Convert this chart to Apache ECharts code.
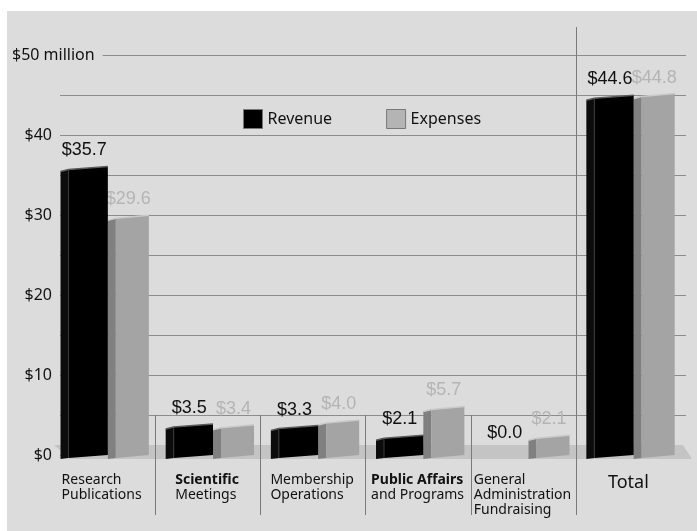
<!DOCTYPE html>
<html><head><meta charset="utf-8">
<script src="https://cdn.jsdelivr.net/npm/echarts@6/dist/echarts.min.js"></script>
<style>html,body{margin:0;padding:0;background:#fff}#c{width:697px;height:531px}</style>
</head><body><div id="c"></div>
<script>
const categories = ['Research\nPublications','Scientific\nMeetings','Membership\nOperations','Public Affairs\nand Programs','General\nAdministration\nFundraising','Total'];
const revenue = [35.7, 3.5, 3.3, 2.1, 0.0, 44.6];
const expenses = [29.6, 3.4, 4.0, 5.7, 2.1, 44.8];
const yTickLabels = ['$0','$10','$20','$30','$40','$50 million'];
const seriesNames = ['Revenue','Expenses'];

const AX_FONT = '"Noto Sans", sans-serif';
const VAL_FONT = '"Liberation Sans", Arial, sans-serif';

// measure category label blocks so lines are left aligned inside a centered block
const cv = document.createElement('canvas').getContext('2d');
function w(text, bold, size){ cv.font = (bold?'bold ':'') + size + 'px "Noto Sans"'; return cv.measureText(text).width; }
const rich = { t: { fontSize: 18, fontFamily: AX_FONT, color: '#111', lineHeight: 20 } };
const boldHead = { 1: true, 3: true };
categories.forEach((c, i) => {
  const lines = c.split('\n');
  let mw = 0;
  lines.forEach((l, j) => { mw = Math.max(mw, w(l, boldHead[i] && j === 0, 14)); });
  mw = Math.ceil(mw) + 1;
  rich['n' + i] = { width: mw, align: 'left', fontSize: 14, lineHeight: 15, fontFamily: AX_FONT, color: '#111' };
  rich['b' + i] = { width: mw, align: 'left', fontSize: 14, lineHeight: 15, fontFamily: AX_FONT, color: '#111', fontWeight: 'bold' };
});
function catFormatter(value, index) {
  if (index === categories.length - 1) return '{t|' + value + '}';
  return value.split('\n').map((l, j) => '{' + ((boldHead[index] && j === 0) ? 'b' : 'n') + index + '|' + l + '}').join('\n');
}

const palettes = {
  Revenue: { side: '#0c0c0c', front: '#000000', top: '#5a5a5a', label: '#111111' },
  Expenses: { side: '#808080', front: '#a4a4a4', top: '#cacaca', label: '#b4b4b4' }
};

function barRenderer(name, fromFrac, toFrac) {
  const p = palettes[name];
  return function (params, api) {
    const idx = api.value(0), v = api.value(1);
    const band = api.size([1, 0])[0];
    const c = api.coord([idx, v]);
    const b = api.coord([idx, 0]);
    const x0 = c[0] + fromFrac * band, x1 = c[0] + toFrac * band;
    const yt = c[1], yb = b[1] + 3, s = 8;
    const children = [];
    if (v > 0) {
      children.push({ type: 'polygon', shape: { points: [[x0, yt + 2], [x0 + s, yt], [x0 + s, yb], [x0, yb + 1]] }, style: { fill: p.side } });
      children.push({ type: 'polygon', shape: { points: [[x0 + s, yt], [x1, yt - 3], [x1, yb - 3], [x0 + s, yb]] }, style: { fill: p.front } });
      children.push({ type: 'polyline', shape: { points: [[x0, yt + 2], [x0 + s, yt], [x1, yt - 3]] }, style: { stroke: p.top, lineWidth: 1.5, fill: null } });
      if (name === 'Revenue') children.push({ type: 'line', shape: { x1: x0 + s, y1: yt + 1, x2: x0 + s, y2: yb }, style: { stroke: '#3a3a3a', lineWidth: 1 } });
    }
    children.push({ type: 'text', style: { text: '$' + v.toFixed(1), x: (x0 + x1) / 2, y: yt - (v > 0 ? 19 : 22), align: 'center', verticalAlign: 'middle', fill: p.label, font: '18px ' + VAL_FONT } });
    return { type: 'group', children };
  };
}

const chart = echarts.init(document.getElementById('c'), null, { renderer: 'canvas' });
chart.setOption({
  backgroundColor: '#ffffff',
  animation: false,
  graphic: [{ type: 'rect', shape: { x: 7, y: 11, width: 690, height: 520 }, style: { fill: '#dcdcdc' }, z: -100, silent: true }],
  legend: {
    data: [
      { name: 'Revenue', itemStyle: { color: '#000', borderColor: '#777', borderWidth: 1 } },
      { name: 'Expenses', itemStyle: { color: '#b4b4b4', borderColor: '#777', borderWidth: 1 } }
    ],
    left: 238, top: 104, icon: 'rect', itemWidth: 19, itemHeight: 19, itemGap: 54,
    textStyle: { fontSize: 16, fontFamily: AX_FONT, color: '#111' }
  },
  grid: [
    { left: 60, right: 11, top: 55, bottom: 76, outerBoundsMode: 'none', containLabel: false },
    { left: 50, right: 16, top: 55, bottom: 76, outerBoundsMode: 'none', containLabel: false }
  ],
  xAxis: [
    { type: 'value', gridIndex: 0, min: 0, max: 1, show: false },
    { type: 'category', gridIndex: 1, data: categories, axisLine: { show: false }, axisTick: { show: false },
      axisLabel: { interval: 0, margin: 18, formatter: catFormatter, rich: rich, align: 'center' } }
  ],
  yAxis: [
    { type: 'value', gridIndex: 0, position: 'left', min: 0, max: 50, interval: 5,
      axisLine: { show: false }, axisTick: { show: false },
      splitLine: { lineStyle: { color: '#8c8c8c', width: 1 } },
      axisLabel: { margin: 8, fontSize: 16, fontFamily: AX_FONT, color: '#111',
        formatter: v => (v % 10 === 0 && v < 50) ? yTickLabels[v / 10] : '' } },
    { type: 'value', gridIndex: 0, position: 'left', offset: 0, min: 0, max: 50, interval: 50, z: 5,
      axisLine: { show: false }, axisTick: { show: false }, splitLine: { show: false },
      axisLabel: { align: 'left', margin: 48, fontSize: 16, fontFamily: AX_FONT, color: '#111',
        backgroundColor: '#dcdcdc', padding: [2, 8, 2, 0],
        formatter: v => v === 50 ? yTickLabels[5] : '' } },
    { type: 'value', gridIndex: 1, position: 'left', min: 0, max: 50, interval: 5, show: false, splitLine: { show: false } }
  ],
  series: [
    { type: 'custom', name: 'floor', xAxisIndex: 0, yAxisIndex: 0, z: 1, silent: true,
      data: [[0, 0]],
      renderItem: (params, api) => {
        const cs = params.coordSys; const y0 = api.coord([0, 0])[1];
        return { type: 'polygon', shape: { points: [[cs.x - 6, y0 - 10], [cs.x + cs.width - 3, y0 - 10], [cs.x + cs.width + 6, y0 + 4], [cs.x + 10, y0 + 4]] }, style: { fill: '#c4c4c4' } };
      } },
    { type: 'custom', name: 'sep', xAxisIndex: 1, yAxisIndex: 2, z: 1, silent: true,
      data: categories.map((c, i) => [i, 0]).slice(1),
      renderItem: (params, api) => {
        const idx = api.value(0); const band = api.size([1, 0])[0];
        const cs = params.coordSys;
        const x = Math.round(api.coord([idx, 0])[0] - band / 2) + 0.5;
        const y0 = api.coord([idx, 0])[1];
        const top = idx === categories.length - 1 ? cs.y - 28 : api.coord([idx, 5])[1];
        return { type: 'line', shape: { x1: x, y1: top, x2: x, y2: y0 + 60 }, style: { stroke: '#7a7a7a', lineWidth: 1 } };
      } },
    { type: 'custom', name: seriesNames[1], xAxisIndex: 1, yAxisIndex: 2, z: 3, itemStyle: { color: '#b4b4b4' },
      data: expenses.map((v, i) => [i, v]), renderItem: barRenderer('Expenses', 0.05, 0.44) },
    { type: 'custom', name: seriesNames[0], xAxisIndex: 1, yAxisIndex: 2, z: 4, itemStyle: { color: '#000' },
      data: revenue.map((v, i) => [i, v]), renderItem: barRenderer('Revenue', -0.40, 0.05) }
  ]
});
</script></body></html>
